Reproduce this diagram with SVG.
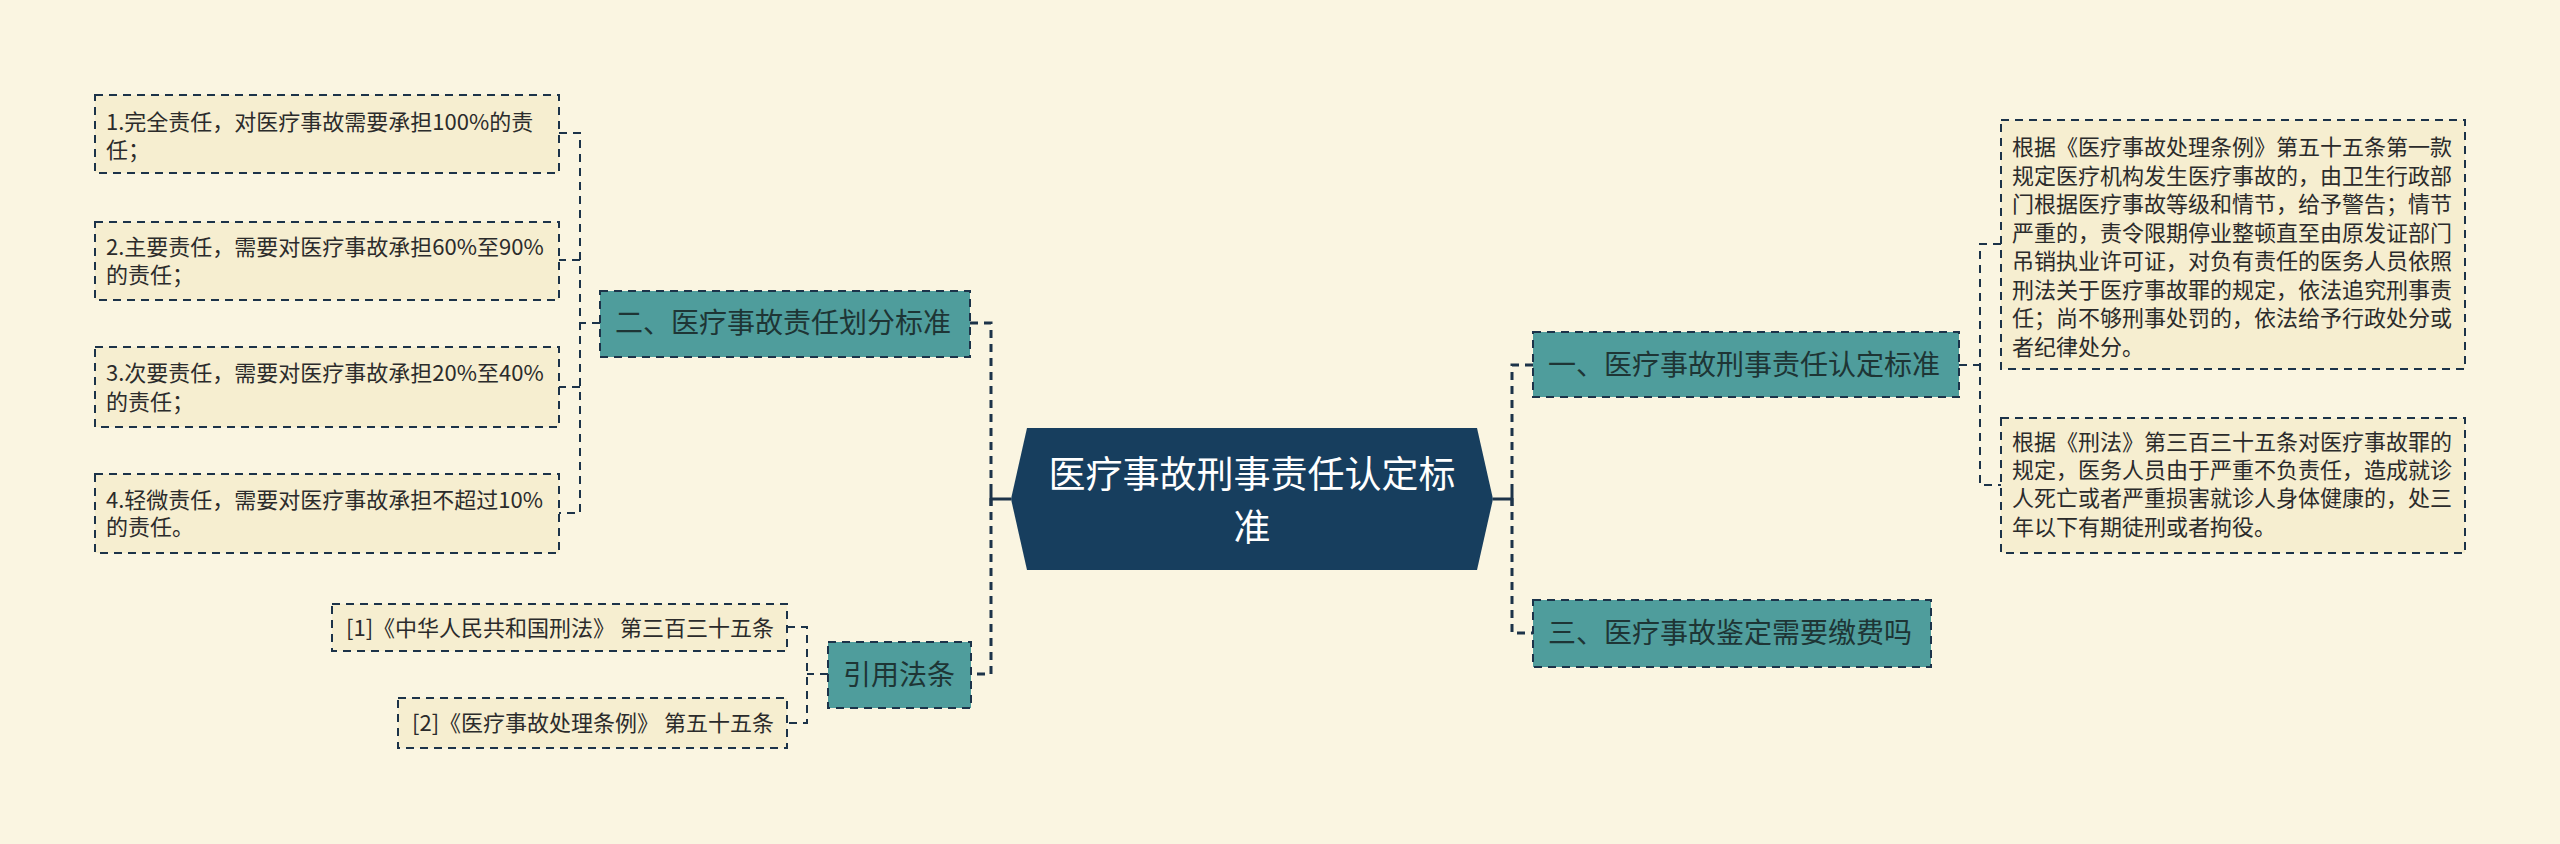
<svg xmlns="http://www.w3.org/2000/svg" width="2560" height="844" viewBox="0 0 2560 844">
<style>
.bg{fill:#faf5e1}
.leaf{fill:#f6eed0;stroke:#1c3349;stroke-width:2;stroke-dasharray:8 6}
.br{fill:#4f9d9c;stroke:#1c3349;stroke-width:2;stroke-dasharray:8 6}
.hub{fill:#173e5e}
.t{font-family:"Noto Sans CJK SC","Noto Sans",sans-serif;font-size:22px;fill:#2b2b2b}
.bt{font-family:"Noto Sans CJK SC","Noto Sans",sans-serif;font-size:28px;fill:#1e3535}
.ht{font-family:"Noto Sans CJK SC","Noto Sans",sans-serif;font-size:37px;fill:#ffffff}
.main{fill:none;stroke:#1c3349;stroke-width:3;stroke-dasharray:8 6}
.sub{fill:none;stroke:#1c3349;stroke-width:2;stroke-dasharray:8 6}
.solid{fill:none;stroke:#1c3349;stroke-width:3}
</style>
<rect class="bg" x="0" y="0" width="2560" height="844"/>

<g id="connectors">
  <path class="solid" d="M1011 499 H991 M991 492 V506"/>
  <path class="main" d="M970 323 H991 V674 H971"/>
  <path class="solid" d="M1493 499 H1512 M1512 492 V506"/>
  <path class="main" d="M1533 365 H1512 V633 H1533"/>
  <path class="sub" d="M600 323 H580 M559 133 H580 V513 H559 M580 260 H559 M580 387 H559"/>
  <path class="sub" d="M1959 365 H1980 M2001 244 H1980 V485 H2001"/>
  <path class="sub" d="M828 674 H807 M787 627 H807 V723 H787"/>
</g>

<g id="hub">
  <polygon class="hub" points="1027,428 1477,428 1493,499 1477,570 1027,570 1011,499"/>
  <text class="ht" x="1252" y="488" text-anchor="middle">医疗事故刑事责任认定标</text>
  <text class="ht" x="1252" y="541" text-anchor="middle">准</text>
</g>

<g id="branch2">
  <rect class="br" x="600" y="291" width="370" height="66"/>
  <text class="bt" x="615" y="333">二、医疗事故责任划分标准</text>
</g>
<g id="cite">
  <rect class="br" x="828" y="642" width="143" height="66"/>
  <text class="bt" x="843" y="685">引用法条</text>
</g>
<g id="branch1">
  <rect class="br" x="1533" y="332" width="426" height="65"/>
  <text class="bt" x="1548" y="375">一、医疗事故刑事责任认定标准</text>
</g>
<g id="branch3">
  <rect class="br" x="1533" y="600" width="398" height="67"/>
  <text class="bt" x="1548" y="643">三、医疗事故鉴定需要缴费吗</text>
</g>

<g id="leaf1">
  <rect class="leaf" x="95" y="95" width="464" height="78"/>
  <text class="t" x="106" y="130">1.完全责任，对医疗事故需要承担100%的责</text>
  <text class="t" x="106" y="158">任；</text>
</g>
<g id="leaf2">
  <rect class="leaf" x="95" y="222" width="464" height="78"/>
  <text class="t" x="106" y="255">2.主要责任，需要对医疗事故承担60%至90%</text>
  <text class="t" x="106" y="283">的责任；</text>
</g>
<g id="leaf3">
  <rect class="leaf" x="95" y="347" width="464" height="80"/>
  <text class="t" x="106" y="381">3.次要责任，需要对医疗事故承担20%至40%</text>
  <text class="t" x="106" y="410">的责任；</text>
</g>
<g id="leaf4">
  <rect class="leaf" x="95" y="474" width="464" height="79"/>
  <text class="t" x="106" y="508">4.轻微责任，需要对医疗事故承担不超过10%</text>
  <text class="t" x="106" y="535">的责任。</text>
</g>

<g id="ref1">
  <rect class="leaf" x="332" y="604" width="455" height="47"/>
  <text class="t" x="346" y="636">[1]《中华人民共和国刑法》 第三百三十五条</text>
</g>
<g id="ref2">
  <rect class="leaf" x="398" y="698" width="389" height="50"/>
  <text class="t" x="412" y="731">[2]《医疗事故处理条例》 第五十五条</text>
</g>

<g id="text1">
  <rect class="leaf" x="2001" y="120" width="464" height="249"/>
  <text class="t" x="2012" y="155">根据《医疗事故处理条例》第五十五条第一款</text>
  <text class="t" x="2012" y="183.5">规定医疗机构发生医疗事故的，由卫生行政部</text>
  <text class="t" x="2012" y="212">门根据医疗事故等级和情节，给予警告；情节</text>
  <text class="t" x="2012" y="240.5">严重的，责令限期停业整顿直至由原发证部门</text>
  <text class="t" x="2012" y="269">吊销执业许可证，对负有责任的医务人员依照</text>
  <text class="t" x="2012" y="297.5">刑法关于医疗事故罪的规定，依法追究刑事责</text>
  <text class="t" x="2012" y="326">任；尚不够刑事处罚的，依法给予行政处分或</text>
  <text class="t" x="2012" y="354.5">者纪律处分。</text>
</g>
<g id="text2">
  <rect class="leaf" x="2001" y="418" width="464" height="135"/>
  <text class="t" x="2012" y="450">根据《刑法》第三百三十五条对医疗事故罪的</text>
  <text class="t" x="2012" y="478">规定，医务人员由于严重不负责任，造成就诊</text>
  <text class="t" x="2012" y="506">人死亡或者严重损害就诊人身体健康的，处三</text>
  <text class="t" x="2012" y="535">年以下有期徒刑或者拘役。</text>
</g>
</svg>
